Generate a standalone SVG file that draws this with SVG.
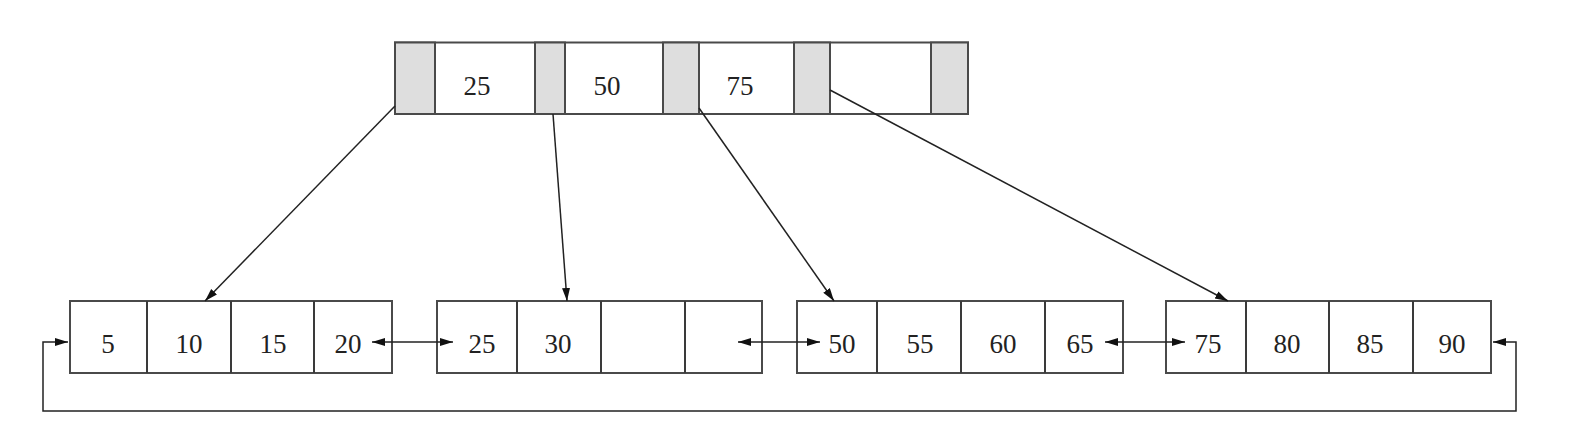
<svg xmlns="http://www.w3.org/2000/svg" width="1588" height="442" viewBox="0 0 1588 442">
<style>
.box{fill:#ffffff;stroke:#4a4a4a;stroke-width:2}
.ptr{fill:#dedede;stroke:#4a4a4a;stroke-width:2}
.div{stroke:#3a3a3a;stroke-width:2}
.t{font-family:"Liberation Serif","Times New Roman",serif;font-size:27px;fill:#222;text-anchor:middle}
.c{fill:none;stroke:#222;stroke-width:1.5}
</style>
<defs>
<marker id="ah" markerUnits="userSpaceOnUse" markerWidth="14" markerHeight="10" refX="13" refY="4" orient="auto-start-reverse">
<path d="M0,0 L13,4 L0,8 z" fill="#111"/>
</marker>
</defs>
<rect width="1588" height="442" fill="#ffffff"/>
<g id="root">
<rect class="box" x="395" y="42.5" width="573" height="71.5"/>
<rect class="ptr" x="395" y="42.5" width="40" height="71.5"/>
<rect class="ptr" x="535" y="42.5" width="30" height="71.5"/>
<rect class="ptr" x="663" y="42.5" width="36" height="71.5"/>
<rect class="ptr" x="794" y="42.5" width="36" height="71.5"/>
<rect class="ptr" x="931" y="42.5" width="37" height="71.5"/>
<text class="t" x="477" y="95">25</text>
<text class="t" x="607" y="95">50</text>
<text class="t" x="740" y="95">75</text>
</g>
<g id="leaf1">
<rect class="box" x="70" y="301" width="322" height="72"/>
<line class="div" x1="147" y1="301" x2="147" y2="373"/>
<line class="div" x1="231" y1="301" x2="231" y2="373"/>
<line class="div" x1="314" y1="301" x2="314" y2="373"/>
<text class="t" x="108" y="353">5</text>
<text class="t" x="189" y="353">10</text>
<text class="t" x="273" y="353">15</text>
<text class="t" x="348" y="353">20</text>
</g>
<g id="leaf2">
<rect class="box" x="437" y="301" width="325" height="72"/>
<line class="div" x1="517" y1="301" x2="517" y2="373"/>
<line class="div" x1="601" y1="301" x2="601" y2="373"/>
<line class="div" x1="685" y1="301" x2="685" y2="373"/>
<text class="t" x="482" y="353">25</text>
<text class="t" x="558" y="353">30</text>
</g>
<g id="leaf3">
<rect class="box" x="797" y="301" width="326" height="72"/>
<line class="div" x1="877" y1="301" x2="877" y2="373"/>
<line class="div" x1="961" y1="301" x2="961" y2="373"/>
<line class="div" x1="1045" y1="301" x2="1045" y2="373"/>
<text class="t" x="842" y="353">50</text>
<text class="t" x="920" y="353">55</text>
<text class="t" x="1003" y="353">60</text>
<text class="t" x="1080" y="353">65</text>
</g>
<g id="leaf4">
<rect class="box" x="1166" y="301" width="325" height="72"/>
<line class="div" x1="1246" y1="301" x2="1246" y2="373"/>
<line class="div" x1="1329" y1="301" x2="1329" y2="373"/>
<line class="div" x1="1413" y1="301" x2="1413" y2="373"/>
<text class="t" x="1208" y="353">75</text>
<text class="t" x="1287" y="353">80</text>
<text class="t" x="1370" y="353">85</text>
<text class="t" x="1452" y="353">90</text>
</g>
<g id="connectors">
<line class="c" x1="395" y1="106" x2="205" y2="301" marker-end="url(#ah)"/>
<line class="c" x1="553" y1="114" x2="567" y2="301" marker-end="url(#ah)"/>
<line class="c" x1="699" y1="108" x2="834" y2="301" marker-end="url(#ah)"/>
<line class="c" x1="830" y1="90" x2="1228" y2="301" marker-end="url(#ah)"/>
<line class="c" x1="372" y1="342" x2="453" y2="342" marker-start="url(#ah)" marker-end="url(#ah)"/>
<line class="c" x1="738" y1="342" x2="820" y2="342" marker-start="url(#ah)" marker-end="url(#ah)"/>
<line class="c" x1="1105" y1="342" x2="1185" y2="342" marker-start="url(#ah)" marker-end="url(#ah)"/>
<path class="c" d="M68,342 L43,342 L43,411 L1516,411 L1516,342 L1493,342" marker-start="url(#ah)" marker-end="url(#ah)"/>
</g>
</svg>
